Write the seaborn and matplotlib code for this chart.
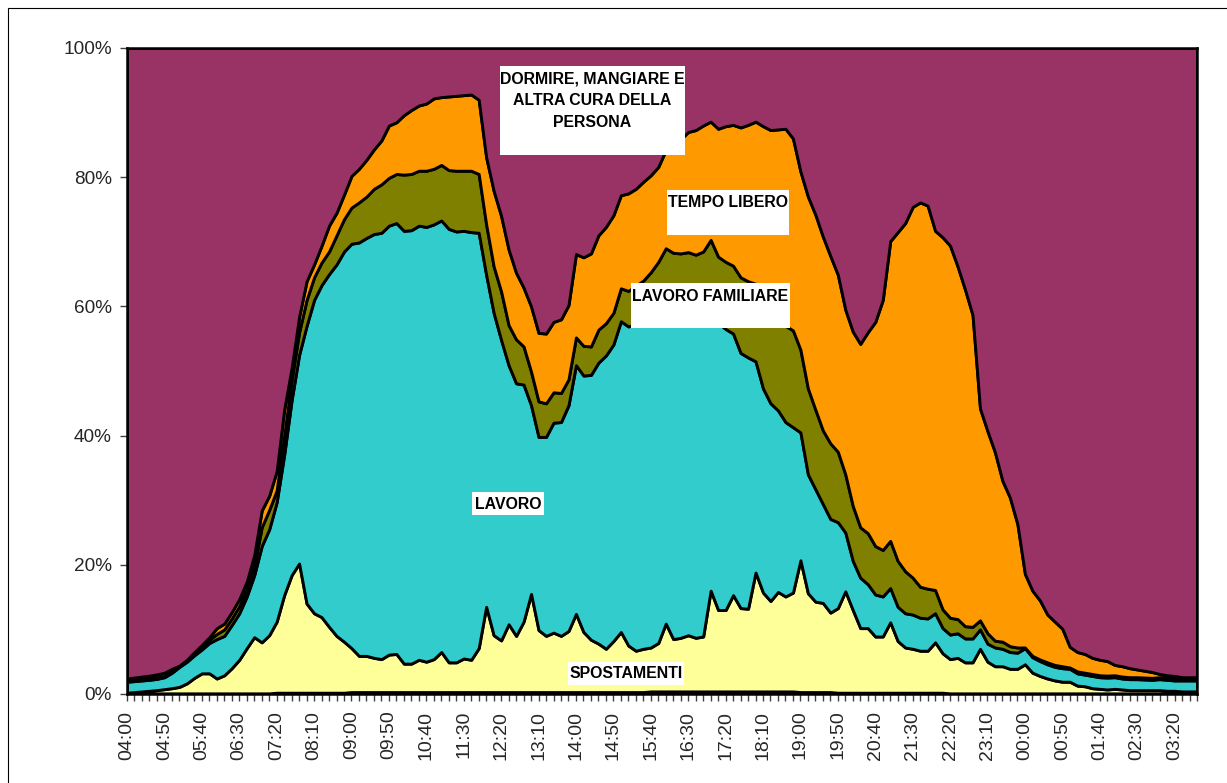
import numpy as np
import matplotlib
matplotlib.use("Agg")
import matplotlib.pyplot as plt
from matplotlib.patches import Rectangle
import seaborn as sns

# time slots: 10-minute intervals from 04:00 to 03:50
times = [f"{((240 + 10 * k) // 60) % 24:02d}:{(10 * k) % 60:02d}" for k in range(144)]

# cumulative levels (% of people), bottom to top
cum_altro = [
    0.1, 0.1, 0.1, 0.1, 0.1, 0.1, 0.1, 0.1, 0.1, 0.1, 0.1, 0.1, 0.1, 0.1, 0.1, 0.1, 0.1, 0.1, 0.1, 0.1,
    0.2, 0.2, 0.2, 0.2, 0.2, 0.2, 0.2, 0.2, 0.2, 0.2, 0.3, 0.3, 0.3, 0.3, 0.3, 0.3, 0.3, 0.3, 0.3, 0.3,
    0.3, 0.3, 0.3, 0.3, 0.3, 0.3, 0.3, 0.3, 0.3, 0.3, 0.3, 0.3, 0.3, 0.3, 0.3, 0.3, 0.3, 0.3, 0.3, 0.3,
    0.3, 0.3, 0.3, 0.3, 0.3, 0.3, 0.3, 0.3, 0.3, 0.3, 0.4, 0.4, 0.4, 0.4, 0.4, 0.4, 0.4, 0.4, 0.4, 0.4,
    0.4, 0.4, 0.4, 0.4, 0.4, 0.4, 0.4, 0.4, 0.4, 0.4, 0.3, 0.3, 0.3, 0.3, 0.3, 0.2, 0.2, 0.2, 0.2, 0.2,
    0.2, 0.2, 0.2, 0.2, 0.2, 0.2, 0.2, 0.2, 0.2, 0.2, 0.1, 0.1, 0.1, 0.1, 0.1, 0.1, 0.1, 0.1, 0.1, 0.1,
    0.1, 0.1, 0.1, 0.1, 0.1, 0.1, 0.1, 0.1, 0.1, 0.1, 0.1, 0.1, 0.1, 0.1, 0.1, 0.1, 0.1, 0.1, 0.1, 0.1,
    0.1, 0.1, 0.1, 0.1,
]
cum_spostamenti = [
    0.2, 0.3, 0.4, 0.5, 0.6, 0.75, 0.9, 1.1, 1.65, 2.5, 3.2, 3.2, 2.4, 2.9, 4.0, 5.3, 7.1, 8.8, 8.0, 9.1,
    11.2, 15.3, 18.4, 20.2, 14.0, 12.5, 11.9, 10.4, 9.0, 8.1, 7.1, 5.9, 5.9, 5.6, 5.4, 6.1, 6.2, 4.7, 4.7, 5.3,
    5.0, 5.4, 6.5, 4.9, 4.9, 5.5, 5.3, 7.1, 13.5, 9.1, 8.3, 10.8, 9.0, 11.2, 15.5, 9.9, 9.0, 9.5, 9.0, 9.75,
    12.4, 9.6, 8.4, 7.8, 7.0, 8.2, 9.6, 7.5, 6.7, 7.0, 7.2, 7.9, 10.9, 8.5, 8.7, 9.1, 8.7, 8.9, 16.0, 13.0,
    13.0, 15.3, 13.3, 13.2, 18.8, 15.7, 14.4, 15.8, 15.1, 15.7, 20.7, 15.6, 14.3, 14.1, 12.6, 13.3, 15.9, 13.0, 10.2, 10.2,
    8.9, 8.9, 11.1, 8.2, 7.2, 7.0, 6.7, 6.7, 8.0, 6.3, 5.4, 5.6, 4.9, 4.9, 7.0, 5.0, 4.3, 4.3, 3.9, 3.9,
    4.6, 3.3, 2.8, 2.4, 2.1, 1.9, 1.9, 1.3, 1.2, 0.9, 0.8, 0.7, 0.8, 0.7, 0.6, 0.6, 0.6, 0.6, 0.6, 0.5,
    0.5, 0.4, 0.4, 0.4,
]
cum_lavoro = [
    1.9, 2.0, 2.1, 2.2, 2.35, 2.6, 3.3, 4.2, 5.0, 6.0, 6.9, 7.9, 8.5, 9.0, 10.7, 12.5, 15.1, 18.4, 22.9, 25.5,
    29.7, 37.0, 45.5, 52.5, 57.0, 61.0, 63.3, 65.0, 66.5, 68.5, 69.7, 69.9, 70.6, 71.2, 71.4, 72.5, 72.9, 71.7, 71.8, 72.5,
    72.3, 72.7, 73.3, 72.0, 71.6, 71.7, 71.5, 71.4, 64.9, 59.0, 54.8, 50.9, 48.1, 47.9, 44.7, 39.8, 39.8, 42.0, 42.1, 44.7,
    50.9, 49.3, 49.4, 51.3, 52.4, 54.1, 57.7, 56.9, 57.3, 57.8, 58.0, 58.2, 58.5, 58.3, 58.0, 58.2, 58.0, 58.1, 58.5, 57.5,
    56.5, 55.8, 52.8, 52.1, 51.5, 47.3, 45.0, 43.9, 42.1, 41.3, 40.5, 34.0, 31.7, 29.4, 27.1, 26.6, 25.0, 20.6, 18.0, 17.0,
    15.4, 15.1, 16.4, 13.5, 12.5, 12.3, 11.8, 11.7, 12.5, 10.2, 9.2, 9.4, 8.6, 8.6, 10.0, 7.8, 7.2, 7.0, 6.5, 6.4,
    7.1, 5.7, 5.1, 4.6, 4.2, 4.0, 3.9, 3.2, 3.0, 2.8, 2.6, 2.55, 2.6, 2.4, 2.3, 2.3, 2.25, 2.2, 2.3, 2.2,
    2.1, 2.1, 2.1, 2.1,
]
cum_lavoro_familiare = [
    2.1, 2.2, 2.3, 2.4, 2.6, 2.8, 3.6, 4.4, 5.2, 6.3, 7.3, 8.4, 9.3, 10.0, 11.7, 13.6, 16.2, 19.8, 25.8, 28.5,
    31.5, 40.0, 48.6, 56.0, 61.0, 64.5, 66.8, 68.5, 71.0, 73.5, 75.3, 76.1, 77.0, 78.2, 78.9, 79.9, 80.5, 80.4, 80.5, 81.0,
    81.0, 81.3, 81.9, 81.1, 81.0, 81.0, 81.0, 80.5, 72.7, 66.2, 62.3, 57.1, 54.9, 53.8, 49.9, 45.3, 45.0, 46.7, 46.6, 48.7,
    55.2, 53.9, 53.8, 56.4, 57.4, 59.0, 62.8, 62.4, 63.2, 64.0, 65.3, 66.9, 69.0, 68.3, 68.2, 68.4, 68.0, 68.5, 70.3, 67.7,
    66.9, 66.3, 64.5, 63.9, 63.5, 63.4, 62.0, 59.5, 57.0, 56.3, 53.3, 47.3, 44.0, 40.8, 38.8, 37.5, 34.0, 29.1, 25.8, 24.9,
    22.9, 22.3, 23.7, 20.6, 19.0, 18.0, 16.6, 16.3, 16.1, 13.1, 11.8, 11.6, 10.5, 10.4, 11.4, 9.4, 8.25, 8.1, 7.4, 7.2,
    7.2, 5.9, 5.35, 4.9, 4.5, 4.3, 4.1, 3.5, 3.3, 3.1, 2.9, 2.85, 2.9, 2.7, 2.6, 2.6, 2.55, 2.5, 2.6, 2.5,
    2.4, 2.4, 2.4, 2.4,
]
cum_tempo_libero = [
    2.4, 2.55, 2.7, 2.85, 3.05, 3.3, 3.9, 4.4, 5.3, 6.5, 7.6, 8.8, 10.2, 10.9, 12.7, 14.7, 17.4, 21.5, 28.4, 30.7,
    34.5, 44.0, 50.5, 58.4, 63.9, 66.5, 69.4, 72.5, 74.5, 77.3, 80.2, 81.3, 82.7, 84.3, 85.7, 88.0, 88.5, 89.6, 90.4, 91.1,
    91.4, 92.2, 92.4, 92.5, 92.6, 92.7, 92.8, 92.0, 83.1, 77.9, 74.0, 68.8, 65.2, 62.9, 60.0, 55.9, 55.8, 57.6, 58.0, 60.2,
    68.1, 67.6, 68.2, 71.0, 72.3, 74.1, 77.2, 77.5, 78.2, 79.3, 80.3, 81.6, 84.2, 85.3, 85.9, 87.0, 87.3, 88.0, 88.6, 87.5,
    87.9, 88.1, 87.7, 88.1, 88.6, 87.9, 87.3, 87.4, 87.5, 86.0, 80.9, 77.0, 74.2, 70.8, 67.8, 64.9, 59.5, 56.1, 54.2, 56.0,
    57.6, 61.0, 70.1, 71.5, 72.9, 75.4, 76.1, 75.6, 71.7, 70.7, 69.4, 66.2, 62.6, 58.7, 44.2, 40.7, 37.4, 33.0, 30.4, 26.3,
    18.6, 16.0, 14.5, 12.3, 11.2, 10.1, 7.3, 6.5, 6.2, 5.6, 5.3, 5.1, 4.5, 4.3, 4.0, 3.8, 3.6, 3.4, 3.1, 2.9,
    2.8, 2.6, 2.6, 2.6,
]

colors = ["#808080", "#FFFF99", "#33CCCC", "#808000", "#FF9900", "#993366"]

sns.set_style("ticks")
plt.rcParams["font.family"] = ["Liberation Sans", "DejaVu Sans"]

levels = np.vstack([np.zeros(144), cum_altro, cum_spostamenti, cum_lavoro,
                    cum_lavoro_familiare, cum_tempo_libero, np.full(144, 100.0)])
shares = np.diff(levels, axis=0)
x = np.arange(len(times))

fig = plt.figure(figsize=(12.27, 7.83), dpi=100)
ax = fig.add_axes([127 / 1227, 1 - 694 / 783, 1070 / 1227, 646 / 783])

ax.stackplot(x, shares, colors=colors, edgecolor="black", linewidth=2.1)

ax.set_xlim(0, len(times) - 1)
ax.set_ylim(0, 100)
ax.set_yticks([0, 20, 40, 60, 80, 100])
ax.set_yticklabels([f"{v}%" for v in [0, 20, 40, 60, 80, 100]], fontsize=13.7)
ax.set_xticks(x)
ax.set_xticklabels([t if k % 5 == 0 else "" for k, t in enumerate(times)],
                   rotation=90, fontsize=14)
ax.tick_params(axis="x", length=5, width=1, color="#404040", pad=7)
ax.tick_params(axis="y", length=5, width=1, color="#404040", pad=6)
for s in ax.spines.values():
    s.set_visible(True)
    s.set_color("black")
    s.set_linewidth(1.8)

# white label boxes (axes fraction coords)
boxes = [
    (0.3486, 0.8344, 0.1729, 0.1377),
    (0.5047, 0.7105, 0.1140, 0.0697),
    (0.4710, 0.5666, 0.1486, 0.0696),
    (0.3224, 0.2771, 0.0673, 0.0356),
    (0.4121, 0.0139, 0.1085, 0.0356),
]
for bx, by, bw, bh in boxes:
    ax.add_patch(Rectangle((bx, by), bw, bh, transform=ax.transAxes,
                           facecolor="white", edgecolor="none", zorder=5))

labels = [
    ("DORMIRE, MANGIARE E", 0.4350, 0.9458),
    ("ALTRA CURA DELLA", 0.4350, 0.9118),
    ("PERSONA", 0.4350, 0.8782),
    ("TEMPO LIBERO", 0.5617, 0.7543),
    ("LAVORO FAMILIARE", 0.5453, 0.6088),
    ("LAVORO", 0.3561, 0.2864),
    ("SPOSTAMENTI", 0.4662, 0.0243),
]
for txt, tx, ty in labels:
    ax.text(tx, ty, txt, transform=ax.transAxes, ha="center", va="baseline",
            fontsize=11.4, fontweight="bold", color="black", zorder=6)

# outer chart frame (only left and top edges fall inside the image)
fig.add_artist(Rectangle((8 / 1227, -0.1), 1.2, 1.1 - 8 / 783, transform=fig.transFigure,
                         fill=False, edgecolor="black", linewidth=0.8, clip_on=False))

fig.savefig("out.png", dpi=100)
